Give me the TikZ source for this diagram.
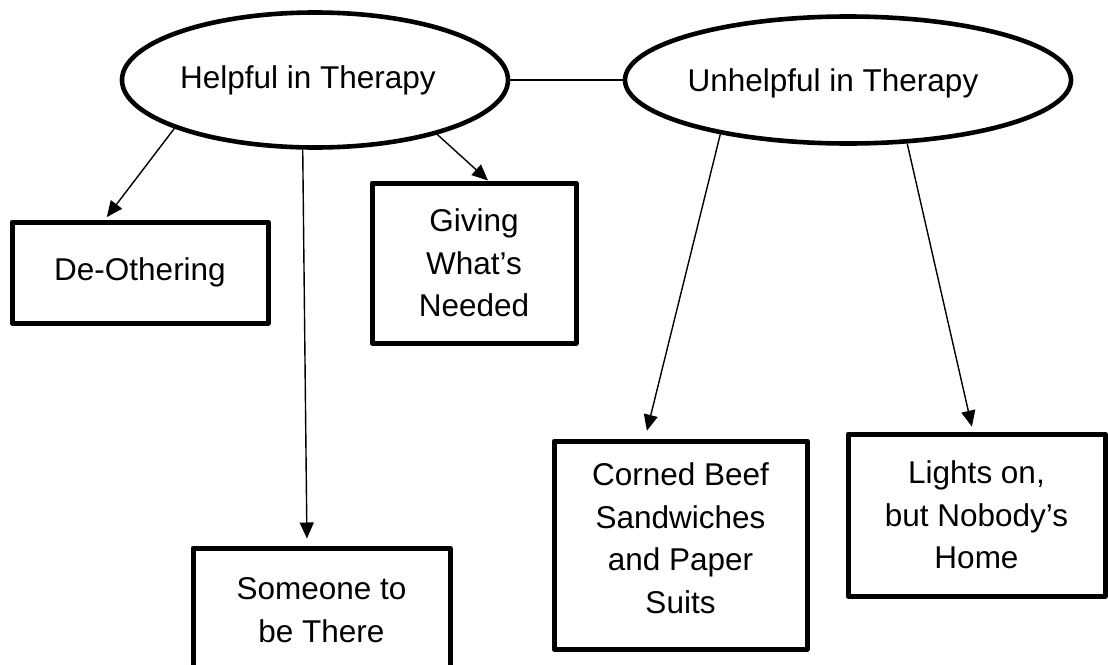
\documentclass[tikz,border=0pt]{standalone}
\usepackage{fontspec}
\setmainfont{Liberation Sans}
\usetikzlibrary{shapes.geometric,arrows.meta}
\newcommand{\lblfont}{\fontsize{31.5}{42.5}\selectfont}
\begin{document}
\begin{tikzpicture}[x=1pt,y=-1pt,
  oval/.style={ellipse,draw,line width=4.6pt,inner sep=0pt},
  caption/.style={font=\lblfont,inner sep=0pt},
  card/.style={rectangle,draw,line width=5pt,line join=round,inner sep=0pt,align=center,font=\lblfont},
  link/.style={line width=1.4pt},
  arr/.style={link,-{Triangle[width=14pt,length=16pt]}}]
\useasboundingbox (0,0) rectangle (1108,664);
\fill[white] (0,0) rectangle (1108,664);
\clip (0,0) rectangle (1108,664);

% the two themes
\node[oval,minimum width=386pt,minimum height=135pt] (help) at (315,80) {};
\node[caption] (helpt) at (308,80) {Helpful in Therapy};
\node[oval,minimum width=446pt,minimum height=127pt] (unhelp) at (848,80) {};
\node[caption] (unhelpt) at (833,83) {Unhelpful in Therapy};

% sub-themes
\node[card,minimum width=256pt,minimum height=101pt] (deo) at (140,272.5) {De-Othering};
\node[card,minimum width=204pt,minimum height=160pt] (give) at (474,263) {Giving\\What’s\\Needed};
\node[card,minimum width=257pt,minimum height=124pt] (some) at (321.5,610) {Someone to\\be There};
\node[card,minimum width=253pt,minimum height=208pt,text depth=14pt] (beef) at (680.5,545) {Corned Beef\\Sandwiches\\and Paper\\Suits};
\node[card,minimum width=257pt,minimum height=162pt] (home) at (976.5,515) {Lights on,\\but Nobody’s\\Home};

% connectors
\draw[link] (help.east) -- (unhelp.west);
\draw[arr,shorten >=3pt] (help.199) -- ([xshift=-35pt]deo.north);
\draw[arr,shorten >=7pt] (help.260) -- ([xshift=-14.5pt]some.north);
\draw[arr] (help.336) -- ([xshift=14pt]give.north);
\draw[arr,shorten >=8pt] (unhelp.203) -- ([xshift=-35.5pt]beef.north);
\draw[arr,shorten >=5pt] (unhelp.313) -- ([xshift=-3.5pt]home.north);
\end{tikzpicture}
\end{document}
